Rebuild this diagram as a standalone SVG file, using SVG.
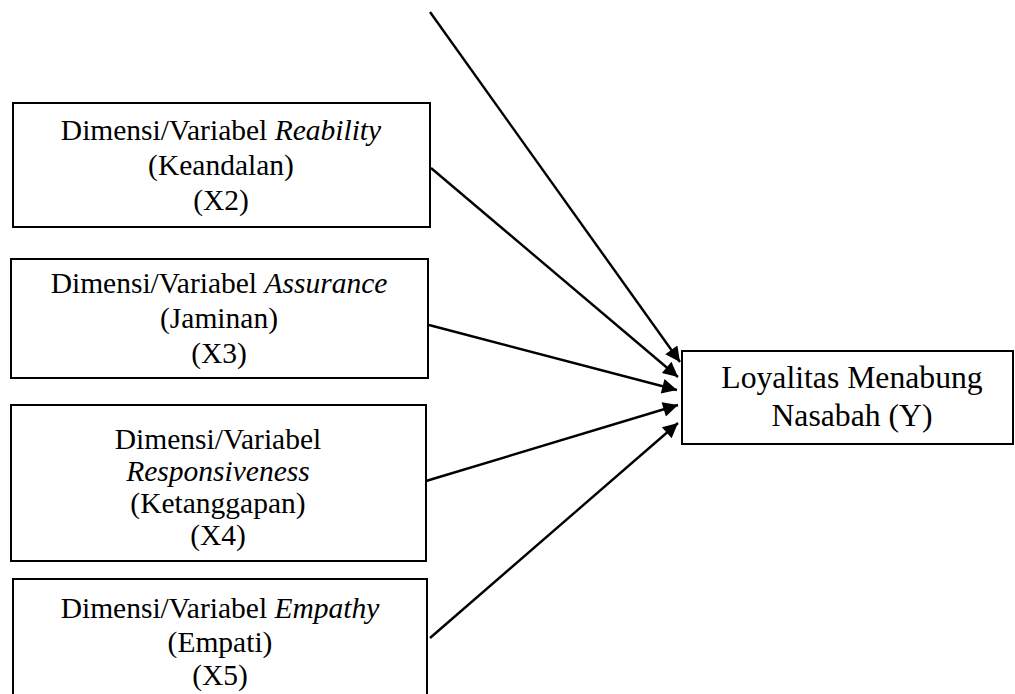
<svg xmlns="http://www.w3.org/2000/svg" width="1015" height="694" viewBox="0 0 1015 694">
<style>
.box{fill:#fff;stroke:#000;stroke-width:2}
.t{font-family:"Liberation Serif","Times New Roman",serif;font-size:29.5px;fill:#000;text-anchor:middle}
.ty{font-family:"Liberation Serif","Times New Roman",serif;font-size:31.7px;fill:#000;text-anchor:middle}
.i{font-style:italic}
.c{stroke:#000;stroke-width:2.4;fill:none;marker-end:url(#ah)}
</style>
<defs>
<marker id="ah" viewBox="0 0 10 10" refX="10" refY="5" markerWidth="8" markerHeight="6.2" markerUnits="strokeWidth" orient="auto">
<path d="M0,0 L10,5 L0,10 z" fill="#000"/>
</marker>
</defs>
<rect width="1015" height="694" fill="#fff"/>
<g id="connectors">
<line class="c" x1="430" y1="12" x2="680" y2="362"/>
<line class="c" x1="431" y1="168" x2="678" y2="377"/>
<line class="c" x1="429" y1="325" x2="677" y2="390"/>
<line class="c" x1="426" y1="481" x2="678" y2="405"/>
<line class="c" x1="430" y1="638" x2="678" y2="423"/>
</g>
<g id="x2">
<rect class="box" x="13" y="103" width="417" height="124"/>
<text class="t" x="221" y="140">Dimensi/Variabel <tspan class="i">Reability</tspan></text>
<text class="t" x="221" y="175">(Keandalan)</text>
<text class="t" x="221" y="210">(X2)</text>
</g>
<g id="x3">
<rect class="box" x="11" y="259" width="417" height="119"/>
<text class="t" x="219" y="293">Dimensi/Variabel <tspan class="i">Assurance</tspan></text>
<text class="t" x="219" y="328">(Jaminan)</text>
<text class="t" x="219" y="363">(X3)</text>
</g>
<g id="x4">
<rect class="box" x="11" y="405" width="415" height="156"/>
<text class="t" x="218" y="449">Dimensi/Variabel</text>
<text class="t i" x="218" y="481">Responsiveness</text>
<text class="t" x="218" y="513">(Ketanggapan)</text>
<text class="t" x="218" y="545">(X4)</text>
</g>
<g id="x5">
<rect class="box" x="13" y="579" width="414" height="130"/>
<text class="t" x="220" y="618">Dimensi/Variabel <tspan class="i">Empathy</tspan></text>
<text class="t" x="220" y="652">(Empati)</text>
<text class="t" x="220" y="685">(X5)</text>
</g>
<g id="y">
<rect class="box" x="682" y="351" width="331" height="93"/>
<text class="ty" x="852" y="388">Loyalitas Menabung</text>
<text class="ty" x="852" y="426">Nasabah (Y)</text>
</g>
</svg>
